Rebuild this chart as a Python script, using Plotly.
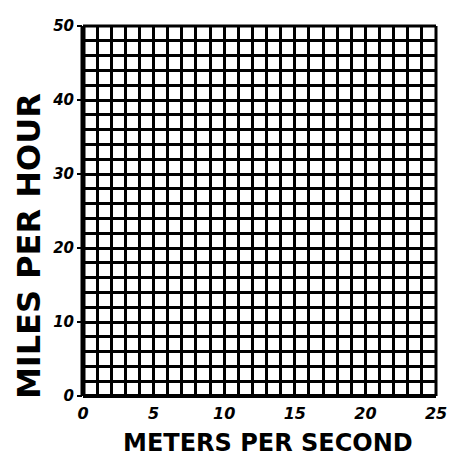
import plotly.graph_objects as go

# Axis ranges and labels
x_range = [0, 25]
y_range = [0, 50]
x_tick_values = [0, 5, 10, 15, 20, 25]
x_tick_labels = ["0", "5", "10", "15", "20", "25"]
y_tick_values = [0, 10, 20, 30, 40, 50]
y_tick_labels = ["0", "10", "20", "30", "40", "50"]
x_minor_step = 1
y_minor_step = 2
x_title = "METERS PER SECOND"
y_title = "MILES PER HOUR"

font_family = "DejaVu Sans"

fig = go.Figure()
fig.add_trace(go.Scatter(x=[], y=[], mode="markers", showlegend=False))

grid_col = "black"
fig.update_xaxes(
    range=x_range,
    tickvals=x_tick_values,
    ticktext=x_tick_labels,
    showgrid=True, gridcolor=grid_col, gridwidth=2.5,
    minor=dict(dtick=x_minor_step, showgrid=True, gridcolor=grid_col, gridwidth=2.5),
    ticks="", zeroline=False, showline=False,
    tickfont=dict(family=font_family, size=16, color="black", weight="bold", style="italic"),
    ticklabelstandoff=6, ticklabeloverflow="allow",
)
fig.update_yaxes(
    range=y_range,
    tickvals=y_tick_values,
    ticktext=y_tick_labels,
    showgrid=True, gridcolor=grid_col, gridwidth=2.5,
    minor=dict(dtick=y_minor_step, showgrid=True, gridcolor=grid_col, gridwidth=2.5),
    ticks="outside", ticklen=5, tickwidth=2, tickcolor="black",
    zeroline=False, showline=False,
    tickfont=dict(family=font_family, size=15, color="black", weight="bold", style="italic"),
    ticklabeloverflow="allow",
)

# frame
fig.add_shape(type="line", xref="paper", yref="paper", x0=0, x1=0, y0=0, y1=1,
              line=dict(color="black", width=5))
fig.add_shape(type="line", xref="paper", yref="paper", x0=0, x1=1, y0=0, y1=0,
              line=dict(color="black", width=4))
fig.add_shape(type="line", xref="paper", yref="paper", x0=0, x1=1, y0=1, y1=1,
              line=dict(color="black", width=3))
fig.add_shape(type="line", xref="paper", yref="paper", x0=1, x1=1, y0=0, y1=1,
              line=dict(color="black", width=3))

fig.add_annotation(text=x_title, xref="paper", yref="paper", x=0.524, y=-0.126,
                   xanchor="center", yanchor="middle", showarrow=False,
                   font=dict(family=font_family, size=24, color="black", weight="bold"))
fig.add_annotation(text=y_title, xref="paper", yref="paper", x=-0.155, y=0.406,
                   xanchor="center", yanchor="middle", showarrow=False, textangle=-90,
                   font=dict(family=font_family, size=32, color="black", weight="bold"))

# page body has an 8px default margin, so the figure is sized to fit the window
fig.update_layout(
    width=448, height=453,
    margin=dict(l=75, r=12, t=9, b=65),
    plot_bgcolor="white", paper_bgcolor="white",
)

fig.write_html("out.html")
